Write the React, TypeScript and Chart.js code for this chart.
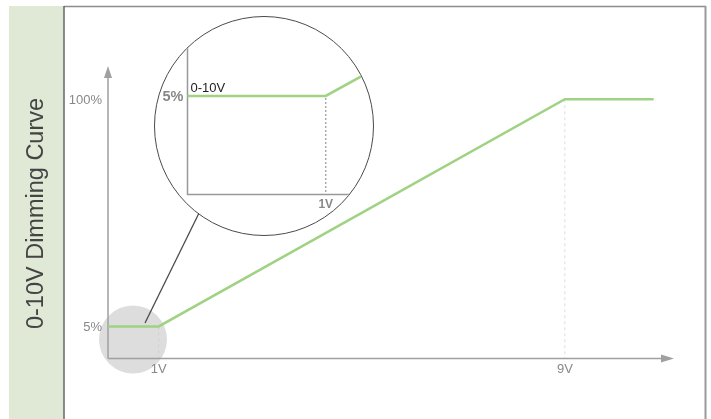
import React, { useEffect, useRef } from "react";
import { Chart, registerables } from "chart.js";

Chart.register(...registerables);

// ---- data ----
const titleText = "0-10V Dimming Curve";
const xVolts = [0, 1, 9, 10.75];
const yPercent = [5, 5, 100, 100];
const xTickValues = [1, 9];
const xTickLabels = ["1V", "9V"];
const yTickValues = [5, 100];
const yTickLabels = ["5%", "100%"];

const insetVolts = [0, 1, 1.5];
const insetPercent = [5, 5, 6.93];
const insetSeriesLabel = "0-10V";
const insetYTickValue = 5;
const insetYTickLabel = "5%";
const insetXTickValue = 1;
const insetXTickLabel = "1V";

// ---- styles ----
const GREEN = "#9fd283";
const AXIS = "#a0a0a0";
const FONT = "'Liberation Sans', Arial, sans-serif";
const W = 711;
const H = 419;

const framePlugin = {
  id: "frame",
  beforeDraw(chart: any) {
    const ctx = chart.ctx;
    ctx.save();
    // green side panel
    ctx.fillStyle = "#dfe9d6";
    ctx.fillRect(9, 6, 55, H - 6);
    // border
    ctx.strokeStyle = "#8c8c8c";
    ctx.lineWidth = 1.5;
    ctx.beginPath();
    ctx.moveTo(64, 6.5);
    ctx.lineTo(706, 6.5);
    ctx.stroke();
    ctx.strokeStyle = "#999";
    ctx.lineWidth = 2;
    ctx.beginPath();
    ctx.moveTo(705.5, 6);
    ctx.lineTo(705.5, H);
    ctx.stroke();
    ctx.strokeStyle = "#666";
    ctx.lineWidth = 1.5;
    ctx.beginPath();
    ctx.moveTo(64, 6);
    ctx.lineTo(64, H);
    ctx.stroke();
    // title
    ctx.translate(37, 213.5);
    ctx.rotate(-Math.PI / 2);
    ctx.fillStyle = "#444444";
    ctx.font = `23.5px ${FONT}`;
    ctx.textAlign = "center";
    ctx.textBaseline = "middle";
    ctx.fillText(titleText, 0, 0);
    ctx.restore();
  },
  beforeDatasetsDraw(chart: any) {
    const ctx = chart.ctx;
    const xs = chart.scales.x;
    const ys = chart.scales.y;
    const ca = chart.chartArea;
    const ax = xs.getPixelForValue(0);
    const ay = ca.bottom;
    ctx.save();
    // magnifier spot
    ctx.fillStyle = "#dddddd";
    ctx.beginPath();
    ctx.arc(133, 339.5, 34, 0, Math.PI * 2);
    ctx.fill();

    // dashed guide lines
    ctx.lineWidth = 1;
    ctx.setLineDash([3, 3]);
    ctx.strokeStyle = "#cfcfcf";
    ctx.beginPath();
    const x1 = xs.getPixelForValue(xTickValues[0]);
    ctx.moveTo(x1, ys.getPixelForValue(yTickValues[0]));
    ctx.lineTo(x1, ay);
    ctx.stroke();
    ctx.strokeStyle = "#dddddd";
    ctx.beginPath();
    const x9 = xs.getPixelForValue(xTickValues[1]);
    ctx.moveTo(x9, ys.getPixelForValue(yTickValues[1]));
    ctx.lineTo(x9, ay);
    ctx.stroke();
    ctx.setLineDash([]);

    // axes
    ctx.strokeStyle = AXIS;
    ctx.fillStyle = AXIS;
    ctx.lineWidth = 1.5;
    ctx.beginPath();
    ctx.moveTo(ax, ay);
    ctx.lineTo(ax, ca.top + 8);
    ctx.moveTo(ax, ay);
    ctx.lineTo(ca.right - 8, ay);
    ctx.stroke();
    ctx.beginPath();
    ctx.moveTo(ax, ca.top);
    ctx.lineTo(ax - 4, ca.top + 12);
    ctx.lineTo(ax + 4, ca.top + 12);
    ctx.closePath();
    ctx.fill();
    ctx.beginPath();
    ctx.moveTo(ca.right, ay);
    ctx.lineTo(ca.right - 13, ay - 4);
    ctx.lineTo(ca.right - 13, ay + 4);
    ctx.closePath();
    ctx.fill();

    // tick labels
    ctx.fillStyle = "#888";
    ctx.font = `13px ${FONT}`;
    ctx.textAlign = "right";
    ctx.textBaseline = "middle";
    yTickValues.forEach((v, i) => {
      ctx.fillText(yTickLabels[i], ax - 6, ys.getPixelForValue(v) + 1);
    });
    ctx.textAlign = "center";
    xTickValues.forEach((v, i) => {
      ctx.fillText(xTickLabels[i], xs.getPixelForValue(v), ay + 11);
    });

    // connector
    ctx.strokeStyle = "#4a4a4a";
    ctx.lineWidth = 1.3;
    ctx.beginPath();
    ctx.moveTo(201, 209);
    ctx.lineTo(145, 323);
    ctx.stroke();
    ctx.restore();
  },
};

const insetPlugin = {
  id: "insetDeco",
  beforeDatasetsDraw(chart: any) {
    const ctx = chart.ctx;
    const xs = chart.scales.x;
    const ys = chart.scales.y;
    const ca = chart.chartArea;
    const ax = xs.getPixelForValue(0);
    const ay = ys.getPixelForValue(0);
    ctx.save();
    // dotted guide
    ctx.strokeStyle = "#aaaaaa";
    ctx.lineWidth = 1.5;
    ctx.setLineDash([2, 2]);
    const gx = xs.getPixelForValue(insetXTickValue);
    ctx.beginPath();
    ctx.moveTo(gx, ys.getPixelForValue(insetYTickValue) + 2);
    ctx.lineTo(gx, ay);
    ctx.stroke();
    ctx.setLineDash([]);
    // axes
    ctx.strokeStyle = "#999999";
    ctx.lineWidth = 1.5;
    ctx.beginPath();
    ctx.moveTo(ax, ca.top - 40);
    ctx.lineTo(ax, ay);
    ctx.lineTo(ca.right + 40, ay);
    ctx.stroke();
    // labels
    ctx.fillStyle = "#888";
    ctx.font = `bold 14.5px ${FONT}`;
    ctx.textAlign = "right";
    ctx.textBaseline = "middle";
    ctx.fillText(insetYTickLabel, ax - 4, ys.getPixelForValue(insetYTickValue) + 1);
    ctx.font = `bold 12px ${FONT}`;
    ctx.textAlign = "center";
    ctx.textBaseline = "top";
    ctx.fillText(insetXTickLabel, gx, ay + 4);
    ctx.fillStyle = "#222";
    ctx.font = `13px ${FONT}`;
    ctx.textAlign = "left";
    ctx.textBaseline = "alphabetic";
    ctx.fillText(insetSeriesLabel, ax + 3, ys.getPixelForValue(insetYTickValue) - 4);
    ctx.restore();
  },
};

export default function App() {
  const mainRef = useRef<HTMLCanvasElement>(null);
  const insetRef = useRef<HTMLCanvasElement>(null);

  useEffect(() => {
    const main = new Chart(mainRef.current!, {
      type: "line",
      data: {
        datasets: [
          {
            data: xVolts.map((x, i) => ({ x, y: yPercent[i] })),
            borderColor: GREEN,
            borderWidth: 2.5,
            pointRadius: 0,
            tension: 0,
            fill: false,
          },
        ],
      },
      options: {
        responsive: false,
        devicePixelRatio: 1,
        animation: false,
        layout: { padding: { left: 108, right: 37, top: 66, bottom: 60.5 } },
        plugins: { legend: { display: false }, tooltip: { enabled: false } },
        scales: {
          x: { type: "linear", min: 0, max: 11.15, display: false },
          y: { type: "linear", min: -8.4, max: 113.9, display: false },
        },
      },
      plugins: [framePlugin],
    } as any);

    const inset = new Chart(insetRef.current!, {
      type: "line",
      data: {
        datasets: [
          {
            data: insetVolts.map((x, i) => ({ x, y: insetPercent[i] })),
            borderColor: GREEN,
            borderWidth: 2.5,
            pointRadius: 0,
            tension: 0,
            fill: false,
            clip: false,
          },
        ],
      },
      options: {
        responsive: false,
        devicePixelRatio: 1,
        animation: false,
        layout: { padding: { left: 187.5, right: 330, top: 40, bottom: 224.5 } },
        plugins: { legend: { display: false }, tooltip: { enabled: false } },
        scales: {
          x: { type: "linear", min: 0, max: 1.4, display: false },
          y: { type: "linear", min: 0, max: 7.84, display: false },
        },
      },
      plugins: [insetPlugin],
    } as any);

    return () => {
      main.destroy();
      inset.destroy();
    };
  }, []);

  return (
    <div style={{ position: "absolute", left: 0, top: 0, width: W, height: H, background: "#fff", overflow: "hidden" }}>
      <canvas ref={mainRef} width={W} height={H} style={{ position: "absolute", left: 0, top: 0 }} />
      <div
        style={{
          position: "absolute",
          left: 154,
          top: 16,
          width: 220,
          height: 220,
          boxSizing: "border-box",
          border: "1.5px solid #4a4a4a",
          borderRadius: "50%",
          overflow: "hidden",
          background: "#fff",
        }}
      >
        <canvas
          ref={insetRef}
          width={W}
          height={H}
          style={{ position: "absolute", left: -155.5, top: -17.5 }}
        />
      </div>
    </div>
  );
}
